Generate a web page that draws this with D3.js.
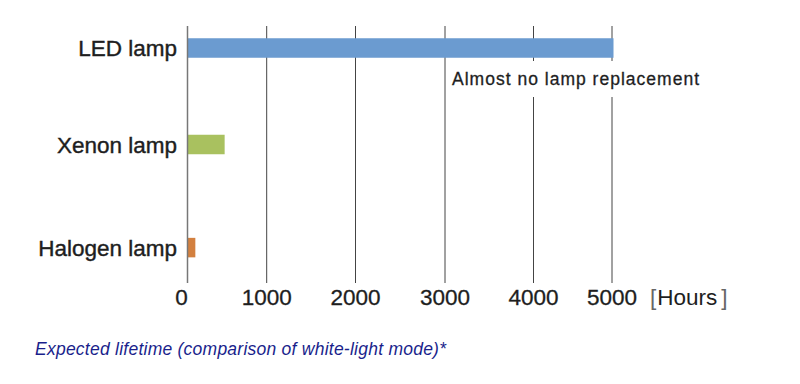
<!DOCTYPE html>
<html>
<head>
<meta charset="utf-8">
<script src="https://cdn.jsdelivr.net/npm/d3@7/dist/d3.min.js"></script>
<style>
  html, body { margin: 0; padding: 0; background: #fff; }
  svg { display: block; }
</style>
</head>
<body>
<script>
const categories = ["LED lamp", "Xenon lamp", "Halogen lamp"];
const hours = [5000, 450, 80];
const colors = ["#6b9bd0", "#a9c15f", "#d3803f"];
const tickValues = [0, 1000, 2000, 3000, 4000, 5000];
const tickLabels = ["0", "1000", "2000", "3000", "4000", "5000"];
const unitLabel = "Hours";
const annotation = "Almost no lamp replacement";
const footnote = "Expected lifetime (comparison of white-light mode)*";

const W = 800, H = 384;
const svg = d3.select("body").append("svg").attr("width", W).attr("height", H);

// piecewise linear scale matching the reference's uneven gridline spacing
const x = d3.scaleLinear()
  .domain(tickValues)
  .range([187.5, 266.7, 355.5, 445, 533.5, 612]);

// category rows (uneven spacing as in the reference)
const y = d3.scaleOrdinal().domain(categories).range([48, 144.5, 247.6]);
const barH = 19.5;

const gridTop = 26, gridBottom = 283;
const font = "'Liberation Sans', Arial, Helvetica, sans-serif";
const ink = "#1e1e1e";

// gridlines
svg.append("g").selectAll("line")
  .data(tickValues.slice(1))
  .join("line")
  .attr("x1", d => x(d)).attr("x2", d => x(d))
  .attr("y1", gridTop).attr("y2", gridBottom)
  .attr("stroke", "#444").attr("stroke-width", 1);

// annotation with white background (interrupts gridlines)
const ann = svg.append("g");
ann.append("rect")
  .attr("x", 449).attr("y", 61).attr("width", 256).attr("height", 36)
  .attr("fill", "#fff");
ann.append("text")
  .attr("x", 452).attr("y", 85)
  .attr("font-family", font).attr("font-size", 17.5)
  .attr("fill", ink).attr("stroke", ink).attr("stroke-width", 0.3)
  .attr("textLength", 247).attr("lengthAdjust", "spacing")
  .text(annotation);

// bars
svg.append("g").selectAll("rect")
  .data(categories.map((c, i) => ({ c, v: hours[i], col: colors[i] })))
  .join("rect")
  .attr("x", x(0))
  .attr("y", d => y(d.c) - barH / 2)
  .attr("width", d => x(d.v) - x(0) + 1.5)
  .attr("height", barH)
  .attr("fill", d => d.col);

// y axis line
svg.append("line")
  .attr("x1", x(0)).attr("x2", x(0))
  .attr("y1", gridTop).attr("y2", gridBottom)
  .attr("stroke", "#777").attr("stroke-width", 1.5);

// category labels
svg.append("g").selectAll("text")
  .data(categories)
  .join("text")
  .attr("x", 177)
  .attr("y", d => y(d))
  .attr("dy", "0.36em")
  .attr("text-anchor", "end")
  .attr("font-family", font).attr("font-size", 22.5)
  .attr("fill", ink).attr("stroke", ink).attr("stroke-width", 0.4)
  .text(d => d);

// x tick labels
svg.append("g").selectAll("text")
  .data(tickValues)
  .join("text")
  .attr("x", (d, i) => x(d) + (i === 0 ? -6 : 0))
  .attr("y", 305)
  .attr("text-anchor", "middle")
  .attr("font-family", font).attr("font-size", 22.5)
  .attr("fill", ink).attr("stroke", ink).attr("stroke-width", 0.3)
  .text((d, i) => tickLabels[i]);

// unit label with thin brackets
const unit = svg.append("text")
  .attr("x", 650).attr("y", 305)
  .attr("font-family", font).attr("font-size", 22.5)
  .attr("fill", ink);
unit.append("tspan").attr("fill", "#666").attr("font-weight", 300).text("[");
unit.append("tspan").attr("dx", 1).text(unitLabel);
unit.append("tspan").attr("dx", 4).attr("fill", "#666").text("]");

// footnote
svg.append("text")
  .attr("x", 35).attr("y", 355)
  .attr("font-family", font).attr("font-size", 17.5)
  .attr("font-style", "italic")
  .attr("fill", "#1a1f8c")
  .attr("textLength", 411).attr("lengthAdjust", "spacing")
  .text(footnote);
</script>
</body>
</html>
